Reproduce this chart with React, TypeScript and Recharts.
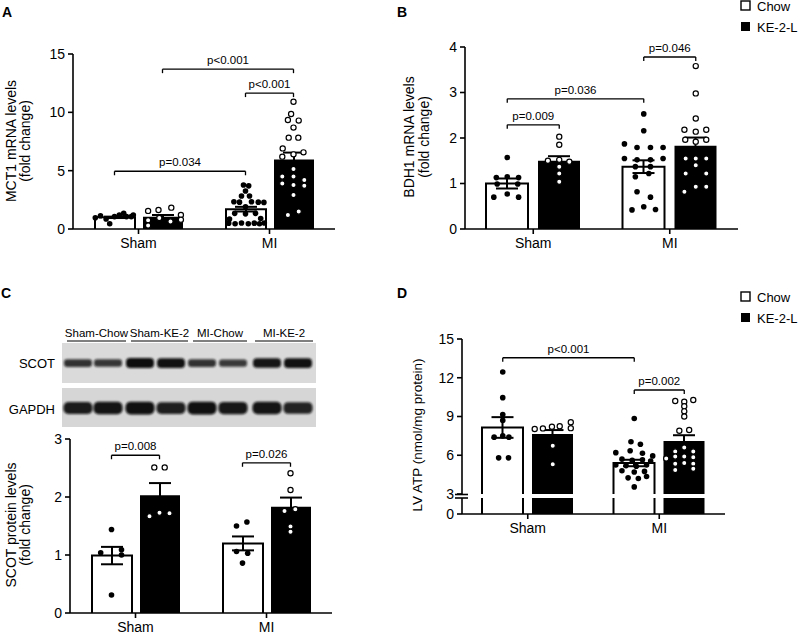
import React from "react";
import { ComposedChart, Bar, Scatter, XAxis, YAxis, ErrorBar, ReferenceLine } from "recharts";

const FONT = '"Liberation Sans", Arial, Helvetica, sans-serif';

type Pt = [number, number]; // [offset across the bar (fraction of bar width), value]
type Bracket = { a: number; b: number; y: number; text: string }; // a/b: bar index 0..3

const groups = ["Sham", "MI"];

// A: MCT1 mRNA (fold change)
const mctChow = [1.0, 1.7];
const mctChowSem = [0.06, 0.2];
const mctKe = [1.05, 5.95];
const mctKeSem = [0.15, 0.6];
const mctShamChowPts: Pt[] = [[-0.48, 0.97], [-0.35, 1.14], [-0.21, 0.86], [-0.12, 0.45], [0, 1.06], [0.12, 1.2], [0.23, 1.34], [0.3, 1.06], [0.42, 1.06], [0.47, 1.2]];
const mctShamKePts: Pt[] = [[-0.36, 1.55], [-0.1, 1.63], [0.22, 1.83], [0.46, 1.2], [0.46, 0.8], [-0.36, 0.75], [-0.36, 0.3], [-0.08, 0.95], [0.2, 0.65]];
const mctMiChowPts: Pt[] = [[-0.05, 3.77], [0.08, 3.7], [0, 3.26], [-0.1, 2.83], [0.1, 2.83], [-0.29, 2.34], [-0.15, 2.3], [0.15, 2.34], [0.32, 2.3], [0.46, 2.28], [0, 1.9], [-0.27, 1.34], [0, 1.3], [0.25, 1.34], [-0.4, 0.86], [0.38, 0.9], [-0.42, 0.5], [-0.26, 0.45], [-0.1, 0.52], [0.07, 0.45], [0.22, 0.5], [0.35, 0.45], [0.47, 0.52]];
const mctMiKePts: Pt[] = [[0, 10.91], [-0.06, 9.86], [-0.14, 9.34], [0.13, 9.29], [0, 8.69], [-0.12, 7.83], [0.12, 7.83], [-0.27, 6.91], [0.25, 6.57], [0, 6.4], [-0.28, 6.2], [0, 5.14], [-0.28, 4.49], [0, 4.49], [0.27, 4.2], [-0.28, 3.91], [0, 3.77], [0.27, 3.71], [0, 2.91], [-0.14, 1.2], [0.13, 1.49]];

// B: BDH1 mRNA (fold change)
const bdhChow = [1.0, 1.37];
const bdhChowSem = [0.11, 0.14];
const bdhKe = [1.5, 1.83];
const bdhKeSem = [0.1, 0.18];
const bdhShamChowPts: Pt[] = [[0, 1.57], [-0.26, 1.13], [0, 1.15], [0.27, 1.13], [-0.24, 0.99], [0.25, 0.99], [-0.32, 0.7], [0, 0.77], [0.27, 0.7]];
const bdhShamKePts: Pt[] = [[0, 2.03], [0, 1.85], [-0.27, 1.5], [0, 1.52], [0.24, 1.48], [0, 1.37], [0, 1.22], [0, 1.04]];
const bdhMiChowPts: Pt[] = [[0, 2.53], [0, 2.16], [-0.46, 1.87], [-0.16, 1.79], [0.16, 1.79], [0.46, 1.79], [-0.46, 1.55], [-0.16, 1.52], [0.16, 1.52], [0.46, 1.55], [-0.2, 1.37], [0.16, 1.37], [-0.2, 1.15], [0.12, 1.22], [-0.16, 0.82], [0.16, 0.7], [-0.28, 0.42], [0, 0.49], [0.28, 0.43]];
const bdhMiKePts: Pt[] = [[0, 3.58], [0, 2.98], [0, 2.43], [-0.27, 2.18], [0, 2.14], [0.25, 2.18], [-0.25, 1.96], [0, 1.92], [0.25, 1.96], [-0.24, 1.55], [0, 1.55], [0.25, 1.55], [0, 1.4], [-0.24, 1.22], [0.25, 1.22], [-0.27, 0.82], [0, 0.93], [0.25, 0.93]];

// C: SCOT protein (fold change)
const scotChow = [0.99, 1.2];
const scotChowSem = [0.15, 0.12];
const scotKe = [2.03, 1.83];
const scotKeSem = [0.21, 0.16];
const scotShamChowPts: Pt[] = [[0, 1.44], [-0.27, 1.04], [0.25, 1.09], [0.25, 1.0], [0, 0.31]];
const scotShamKePts: Pt[] = [[-0.13, 2.51], [0.13, 2.51], [-0.25, 1.67], [0, 1.73], [0.25, 1.72]];
const scotMiChowPts: Pt[] = [[-0.15, 1.5], [0.11, 1.57], [-0.15, 1.06], [0.13, 1.03], [0, 0.86]];
const scotMiKePts: Pt[] = [[0, 2.41], [0, 2.12], [-0.15, 1.76], [0.12, 1.79], [0, 1.49], [0, 1.4]];

// western blot lanes (relative band density)
const blotGroups = ["Sham-Chow", "Sham-KE-2", "MI-Chow", "MI-KE-2"];
const laneX = [78, 108, 140, 171, 202, 233, 267, 298];
const scotDensity = [0.55, 0.5, 1.0, 0.95, 0.55, 0.45, 0.9, 0.95];
const gapdhDensity = [0.8, 0.9, 0.95, 0.75, 0.95, 0.85, 0.9, 0.7];

// D: LV ATP (nmol/mg protein)
const atpChow = [8.15, 5.4];
const atpChowSem = [0.8, 0.25];
const atpKe = [7.65, 7.1];
const atpKeSem = [0.3, 0.45];
const atpShamChowPts: Pt[] = [[0, 12.45], [0, 10.46], [0, 9.15], [0, 8.7], [-0.21, 7.4], [0, 7.5], [0.15, 7.4], [-0.1, 5.8], [0.14, 5.8]];
const atpShamKePts: Pt[] = [[-0.44, 8.03], [-0.24, 8.08], [-0.02, 8.21], [0.17, 8.25], [0.44, 8.55], [0.44, 8.1], [0, 6.74], [0, 5.3]];
const atpMiChowPts: Pt[] = [[0, 8.85], [-0.08, 7.05], [0.15, 6.85], [-0.45, 6.2], [-0.1, 6.35], [0.2, 6.15], [0.45, 5.95], [-0.3, 5.7], [-0.05, 5.6], [0.2, 5.65], [0.4, 5.55], [-0.45, 5.25], [-0.2, 5.2], [0.05, 5.15], [0.3, 5.25], [-0.3, 4.8], [0, 4.7], [0.25, 4.75], [-0.15, 4.25], [0.1, 4.2], [0.3, 4.35], [0, 3.55]];
const atpMiKePts: Pt[] = [[-0.22, 10.2], [0, 10.15], [0.22, 10.28], [0, 9.8], [0, 9.4], [0, 9.0], [-0.12, 7.9], [0.12, 7.95], [0, 6.6], [-0.22, 6.3], [0.22, 6.3], [-0.44, 5.75], [-0.22, 5.9], [0, 5.9], [0.22, 5.85], [-0.22, 5.35], [0, 5.4], [0.22, 5.35], [-0.22, 4.85], [0.22, 4.95]];

const tickStyle = { fill: "#000", fontSize: 14, fontFamily: FONT };
const axisStroke = { stroke: "#000", strokeWidth: 1.6 };

const ChowShape = (p: any) => {
  const { x, y, width, height } = p;
  if (width == null || height == null) return null;
  return (
    <g>
      <rect x={x} y={y} width={width} height={height} fill="#fff" />
      <path d={`M${x},${y + height}V${y}H${x + width}V${y + height}`} fill="none" stroke="#000" strokeWidth={2} />
    </g>
  );
};

const dotChow = (p: any) => <circle cx={p.cx} cy={p.cy} r={2.8} fill="#000" />;
const dotKe = (p: any) => <circle cx={p.cx} cy={p.cy} r={2.6} fill="#fff" stroke="#000" strokeWidth={1.2} />;

type PanelProps = {
  left: number; top: number; width: number; height: number;
  plotL: number; plotR: number; plotT: number; plotB: number;
  domain: [number, number]; ticks: number[];
  barSize: number; barGap: number;
  chow: number[]; chowSem?: number[]; ke: number[]; keSem?: number[];
  chowPts?: Pt[][]; kePts?: Pt[][];
  brackets?: Bracket[];
  showX?: boolean;
};

function Panel(props: PanelProps) {
  const { left, top, width, height, plotL, plotR, plotT, plotB, domain, ticks, barSize, barGap,
    chow, chowSem, ke, keSem, chowPts, kePts, brackets = [], showX = true } = props;
  const yW = 40;
  const xH = showX ? 20 : 0;
  const margin = { left: plotL - left - yW, right: left + width - plotR, top: plotT - top, bottom: top + height - plotB - xH };
  const band = (plotR - plotL) / 2;
  const off = (barSize + barGap) / 2 / band;
  const frac = barSize / band;
  const barX = (i: number) => Math.floor(i / 2) + 0.5 + (i % 2 ? off : -off);
  const data = groups.map((name, g) => ({
    name, chow: chow[g], chowSem: chowSem ? chowSem[g] : 0, ke: ke[g], keSem: keSem ? keSem[g] : 0,
  }));
  const chowScatter = (chowPts || []).flatMap((pts, g) => pts.map(([dx, v]) => ({ x: barX(2 * g) + dx * frac, y: v })));
  const keScatter = (kePts || []).flatMap((pts, g) => pts.map(([dx, v]) => ({ x: barX(2 * g + 1) + dx * frac, y: v })));
  const tickLen = 4 / ((plotB - plotT) / (domain[1] - domain[0]));
  const seg = { stroke: "#000", strokeWidth: 1.3, ifOverflow: "visible" as const, xAxisId: "num" };

  return (
    <div style={{ position: "absolute", left, top }}>
      <ComposedChart width={width} height={height} data={data} margin={margin} barGap={barGap} barSize={barSize}>
        <XAxis dataKey="name" hide={!showX} height={xH || 30} interval={0} tick={tickStyle} tickSize={5} tickMargin={4} axisLine={axisStroke} tickLine={axisStroke} />
        <XAxis xAxisId="num" type="number" dataKey="x" domain={[0, 2]} hide allowDataOverflow />
        <YAxis type="number" domain={domain} ticks={ticks} interval={0} allowDataOverflow width={yW} tickSize={5} tickMargin={3} tick={tickStyle} axisLine={axisStroke} tickLine={axisStroke} />
        <Bar dataKey="chow" shape={ChowShape} isAnimationActive={false}>
          {chowSem && <ErrorBar dataKey="chowSem" width={11} stroke="#000" strokeWidth={2} direction="y" />}
        </Bar>
        <Bar dataKey="ke" fill="#000" isAnimationActive={false}>
          {keSem && <ErrorBar dataKey="keSem" width={11} stroke="#000" strokeWidth={2} direction="y" />}
        </Bar>
        {chowScatter.length > 0 && <Scatter xAxisId="num" data={chowScatter} dataKey="y" shape={dotChow} isAnimationActive={false} />}
        {keScatter.length > 0 && <Scatter xAxisId="num" data={keScatter} dataKey="y" shape={dotKe} isAnimationActive={false} />}
        {brackets.map((b, k) => {
          const xa = barX(b.a);
          const xb = barX(b.b);
          return [
            <ReferenceLine key={`h${k}`} {...seg} segment={[{ x: xa, y: b.y }, { x: xb, y: b.y }]}
              label={{ value: b.text, position: "top", offset: 5, fontSize: 11.5, fill: "#000", fontFamily: FONT }} />,
            <ReferenceLine key={`l${k}`} {...seg} segment={[{ x: xa, y: b.y }, { x: xa, y: b.y - tickLen }]} />,
            <ReferenceLine key={`r${k}`} {...seg} segment={[{ x: xb, y: b.y }, { x: xb, y: b.y - tickLen }]} />,
          ];
        })}
      </ComposedChart>
    </div>
  );
}

function Legend({ y }: { y: number }) {
  return (
    <g fontSize={13} fontFamily={FONT}>
      <rect x={741} y={y} width={9} height={9} fill="#fff" stroke="#000" strokeWidth={1.4} />
      <text x={757} y={y + 9.5}>Chow</text>
      <rect x={741} y={y + 21} width={9} height={9} fill="#000" />
      <text x={757} y={y + 30.5}>KE-2-L</text>
    </g>
  );
}

function Blot() {
  const groupLines = [[67, 126], [131, 188], [193, 247], [255, 313]];
  return (
    <g fontFamily={FONT}>
      <defs>
        <filter id="blur" x="-20%" y="-60%" width="140%" height="220%">
          <feGaussianBlur stdDeviation="1.2" />
        </filter>
      </defs>
      {blotGroups.map((g, i) => (
        <g key={g}>
          <text x={(groupLines[i][0] + groupLines[i][1]) / 2} y={337} fontSize={11.5} textAnchor="middle">{g}</text>
          <line x1={groupLines[i][0]} x2={groupLines[i][1]} y1={341} y2={341} stroke="#000" strokeWidth={1} />
        </g>
      ))}
      <rect x={62} y={343} width={254} height={40} fill="#dadada" />
      <rect x={62} y={388} width={254} height={39} fill="#d6d6d6" />
      {laneX.map((cx, i) => {
        const h = 5 + 5 * scotDensity[i];
        return <rect key={`s${i}`} x={cx - 14} y={363 - h / 2} width={28} height={h} rx={h / 2.5} fill="#0d0d0d" opacity={0.6 + 0.4 * scotDensity[i]} filter="url(#blur)" />;
      })}
      {laneX.map((cx, i) => {
        const h = 8 + 5 * gapdhDensity[i];
        return <rect key={`g${i}`} x={cx - 14.5} y={408 - h / 2} width={29} height={h} rx={h / 2.5} fill="#0d0d0d" opacity={0.65 + 0.35 * gapdhDensity[i]} filter="url(#blur)" />;
      })}
      <text x={55} y={368} fontSize={13} textAnchor="end">SCOT</text>
      <text x={55} y={414} fontSize={13} textAnchor="end">GAPDH</text>
    </g>
  );
}

export default function App() {
  return (
    <div style={{ position: "absolute", left: 0, top: 0, width: 800, height: 634, background: "#fff", fontFamily: FONT, overflow: "hidden" }}>
      <Panel left={0} top={0} width={400} height={280} plotL={73} plotR={335} plotT={54} plotB={229}
        domain={[0, 15]} ticks={[0, 5, 10, 15]} barSize={40} barGap={8}
        chow={mctChow} chowSem={mctChowSem} ke={mctKe} keSem={mctKeSem}
        chowPts={[mctShamChowPts, mctMiChowPts]} kePts={[mctShamKePts, mctMiKePts]}
        brackets={[{ a: 0, b: 2, y: 4.95, text: "p=0.034" }, { a: 1, b: 3, y: 13.7, text: "p<0.001" }, { a: 2, b: 3, y: 11.65, text: "p<0.001" }]} />
      <Panel left={400} top={0} width={400} height={280} plotL={465} plotR={738} plotT={47} plotB={229}
        domain={[0, 4]} ticks={[0, 1, 2, 3, 4]} barSize={42} barGap={10}
        chow={bdhChow} chowSem={bdhChowSem} ke={bdhKe} keSem={bdhKeSem}
        chowPts={[bdhShamChowPts, bdhMiChowPts]} kePts={[bdhShamKePts, bdhMiKePts]}
        brackets={[{ a: 0, b: 1, y: 2.29, text: "p=0.009" }, { a: 0, b: 2, y: 2.86, text: "p=0.036" }, { a: 2, b: 3, y: 3.78, text: "p=0.046" }]} />
      <Panel left={0} top={420} width={400} height={214} plotL={70} plotR={332} plotT={439} plotB={613}
        domain={[0, 3]} ticks={[0, 1, 2, 3]} barSize={40} barGap={8}
        chow={scotChow} chowSem={scotChowSem} ke={scotKe} keSem={scotKeSem}
        chowPts={[scotShamChowPts, scotMiChowPts]} kePts={[scotShamKePts, scotMiKePts]}
        brackets={[{ a: 0, b: 1, y: 2.72, text: "p=0.008" }, { a: 2, b: 3, y: 2.59, text: "p=0.026" }]} />
      {/* D: broken axis, upper part 3..15 */}
      <Panel left={400} top={330} width={400} height={178} plotL={462} plotR={725} plotT={339} plotB={494}
        domain={[3, 15]} ticks={[3, 6, 9, 12, 15]} barSize={41} barGap={9} showX={false}
        chow={atpChow} chowSem={atpChowSem} ke={atpKe} keSem={atpKeSem}
        chowPts={[atpShamChowPts, atpMiChowPts]} kePts={[atpShamKePts, atpMiKePts]}
        brackets={[{ a: 0, b: 2, y: 13.55, text: "p<0.001" }, { a: 2, b: 3, y: 11.05, text: "p=0.002" }]} />
      {/* D: lower part 0..3 */}
      <Panel left={400} top={490} width={400} height={50} plotL={462} plotR={725} plotT={498} plotB={514}
        domain={[0, 3]} ticks={[0]} barSize={41} barGap={9}
        chow={atpChow} ke={atpKe} />
      <svg width={800} height={634} style={{ position: "absolute", left: 0, top: 0, pointerEvents: "none" }}>
        <g fontFamily={FONT} fontWeight="bold" fontSize={14}>
          <text x={2} y={17}>A</text>
          <text x={397} y={17}>B</text>
          <text x={1} y={298}>C</text>
          <text x={397} y={298}>D</text>
        </g>
        <g fontFamily={FONT} fontSize={14} textAnchor="middle">
          <text transform="translate(15.5,141) rotate(-90)">MCT1 mRNA levels</text>
          <text transform="translate(29.5,141) rotate(-90)">(fold change)</text>
          <text transform="translate(414,137) rotate(-90)">BDH1 mRNA levels</text>
          <text transform="translate(429,137) rotate(-90)">(fold change)</text>
          <text transform="translate(15.5,525) rotate(-90)">SCOT protein levels</text>
          <text transform="translate(29.5,525) rotate(-90)">(fold change)</text>
          <text transform="translate(422,435) rotate(-90)" fontSize={13.5}>LV ATP (nmol/mg protein)</text>
        </g>
        <line x1={455} x2={468} y1={494.5} y2={494.5} stroke="#000" strokeWidth={1.6} />
        <line x1={455} x2={468} y1={498} y2={498} stroke="#000" strokeWidth={1.6} />
        <Legend y={1} />
        <Legend y={292} />
        <Blot />
      </svg>
    </div>
  );
}
